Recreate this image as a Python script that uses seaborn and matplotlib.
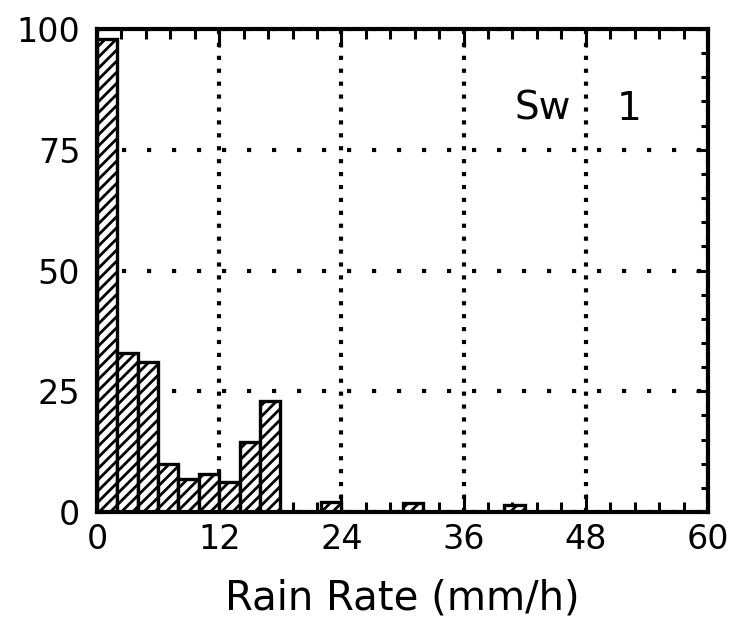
import numpy as np
import pandas as pd
import matplotlib
matplotlib.use("Agg")
import matplotlib.pyplot as plt
from matplotlib.ticker import MultipleLocator, FixedLocator
import seaborn as sns

# ---- data ----
bin_left = [0, 2, 4, 6, 8, 10, 12, 14, 16, 22, 30, 40]          # mm/h (2 mm/h bins)
percent = [98.0, 32.9, 31.0, 10.0, 6.8, 7.8, 6.2, 14.5, 22.9, 2.1, 1.8, 1.5]
x_ticks = [0, 12, 24, 36, 48, 60]
y_ticks = [0, 25, 50, 75, 100]
x_label = "Rain Rate (mm/h)"
panel_name = "Sw"
panel_num = "1"

sns.set_style("white")
plt.rcParams["font.family"] = ["DejaVu Sans"]
plt.rcParams["text.color"] = "black"
plt.rcParams["axes.labelcolor"] = "black"
plt.rcParams["xtick.color"] = "black"
plt.rcParams["ytick.color"] = "black"
plt.rcParams["hatch.color"] = "black"
plt.rcParams["hatch.linewidth"] = 2.0

W, H = 731, 629
fig = plt.figure(figsize=(W / 100, H / 100), dpi=100)
L, R, T, B = 97, 708, 29, 512
ax = fig.add_axes([L / W, 1 - B / H, (R - L) / W, (B - T) / H])

df = pd.DataFrame({"rate": np.array(bin_left, dtype=float) + 1.0,
                   "pct": percent})
sns.histplot(data=df, x="rate", weights="pct", binwidth=2, binrange=(0, 42),
             ax=ax, stat="count", fill=True, color="white", edgecolor="black",
             linewidth=2.4, alpha=1.0, hatch="///", zorder=2)

ax.set_xlim(0, 60)
ax.set_ylim(0, 100)
ax.xaxis.set_major_locator(FixedLocator(x_ticks))
ax.yaxis.set_major_locator(FixedLocator(y_ticks))
ax.xaxis.set_minor_locator(MultipleLocator(2.4))
ax.yaxis.set_minor_locator(MultipleLocator(5))
ax.set_xticklabels([str(v) for v in x_ticks])
ax.set_yticklabels([str(v) for v in y_ticks])

ax.set_axisbelow(True)
ax.xaxis.grid(True, which="major", color="black", linewidth=3.0,
              linestyle=(0, (1, 2.1)))
ax.yaxis.grid(True, which="major", color="black", linewidth=3.0,
              linestyle=(0, (1, 5.0)))

ax.tick_params(axis="x", which="major", direction="in", top=True, bottom=True,
               length=13, width=2.2, labelsize=24, pad=8)
ax.tick_params(axis="x", which="minor", direction="in", top=True, bottom=True,
               length=7, width=2.2)
ax.tick_params(axis="y", which="major", direction="in", left=True, right=True,
               length=9, width=2.2, labelsize=24, pad=12)
ax.tick_params(axis="y", which="minor", direction="in", left=True, right=True,
               length=5, width=2.2)

for s in ax.spines.values():
    s.set_visible(True)
    s.set_linewidth(3)
    s.set_color("black")

ax.set_ylabel("")
ax.set_xlabel(x_label, fontsize=29, labelpad=16)

ax.text(41, 83.5, panel_name, fontsize=28, ha="left", va="center")
ax.text(52.3, 83.5, panel_num, fontsize=28, ha="center", va="center")

fig.savefig("out.png", dpi=100, facecolor="white")
